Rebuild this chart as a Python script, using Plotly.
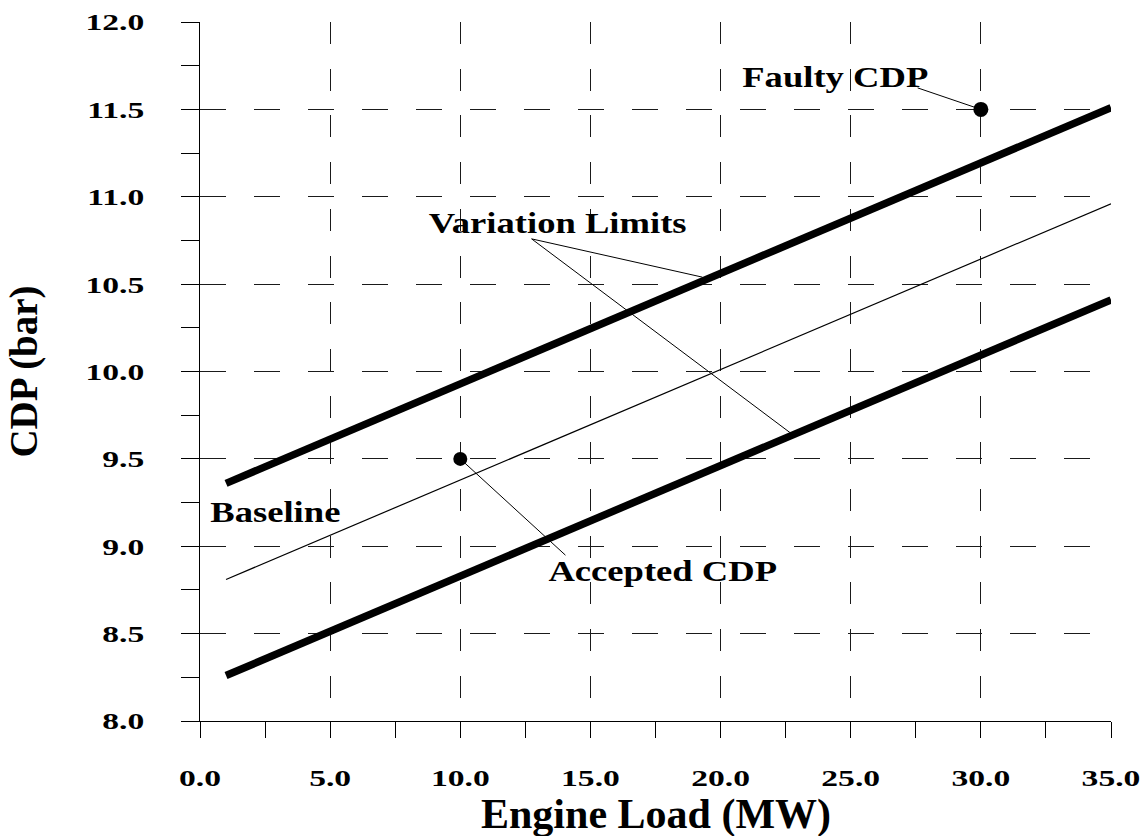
import plotly.graph_objects as go

# ---- data -------------------------------------------------------------
load_mw = [1.0, 35.0]                 # engine load at the ends of each line
cdp_baseline = [8.81, 10.96]          # baseline compressor delivery pressure
cdp_upper = [9.36, 11.51]             # upper variation limit
cdp_lower = [8.26, 10.41]             # lower variation limit

faulty_load = [30.0]
faulty_cdp = [11.5]
accepted_load = [10.0]
accepted_cdp = [9.5]

x_tick_vals = [0, 5, 10, 15, 20, 25, 30, 35]
x_tick_text = ["0.0", "5.0", "10.0", "15.0", "20.0", "25.0", "30.0", "35.0"]
y_tick_vals = [8.0, 8.5, 9.0, 9.5, 10.0, 10.5, 11.0, 11.5, 12.0]
y_tick_text = ["8.0", "8.5", "9.0", "9.5", "10.0", "10.5", "11.0", "11.5", "12.0"]

x_title = "Engine Load (MW)"
y_title = "CDP (bar)"

# ---- callout labels (text, position) and their leader lines -------------
label_text = ["Faulty CDP", "Variation Limits", "Baseline", "Accepted CDP"]
label_x = [24.41, 13.75, 2.90, 17.77]
label_y = [11.69, 10.85, 9.20, 8.86]

leader_lines = [
    ((27.57, 11.623), (faulty_load[0], faulty_cdp[0])),
    ((12.74, 10.759), (19.30, 10.54)),
    ((12.74, 10.759), (22.76, 9.64)),
    ((accepted_load[0], accepted_cdp[0]), (14.04, 8.949)),
]

FONT = "Liberation Serif"

fig = go.Figure()

fig.add_trace(go.Scatter(x=load_mw, y=cdp_upper, mode="lines",
                         line=dict(color="black", width=7.5), name="Upper limit"))
fig.add_trace(go.Scatter(x=load_mw, y=cdp_baseline, mode="lines",
                         line=dict(color="black", width=1.2), name="Baseline"))
fig.add_trace(go.Scatter(x=load_mw, y=cdp_lower, mode="lines",
                         line=dict(color="black", width=7.5), name="Lower limit"))
fig.add_trace(go.Scatter(x=faulty_load, y=faulty_cdp, mode="markers",
                         marker=dict(color="black", size=15), name="Faulty CDP"))
fig.add_trace(go.Scatter(x=accepted_load, y=accepted_cdp, mode="markers",
                         marker=dict(color="black", size=14), name="Accepted CDP"))

for (x0, y0), (x1, y1) in leader_lines:
    fig.add_shape(type="line", xref="x", yref="y", x0=x0, y0=y0, x1=x1, y1=y1,
                  line=dict(color="black", width=1))

for txt, lx, ly in zip(label_text, label_x, label_y):
    fig.add_annotation(x=lx, y=ly, xref="x", yref="y", text=txt, showarrow=False,
                       xanchor="center", yanchor="middle",
                       font=dict(family=FONT, size=30, color="black", weight="bold"))

# x-axis title sits low in the bottom margin, below the tick labels
fig.add_annotation(x=0.5, y=-0.1335, xref="paper", yref="paper", text=x_title,
                   showarrow=False, xanchor="center", yanchor="middle",
                   font=dict(family=FONT, size=42, color="black", weight="bold"))

tick_font = dict(family=FONT, size=24, color="black", weight="bold")

fig.update_layout(
    width=1142, height=836,
    margin=dict(l=200, r=31, t=22, b=115, pad=0),
    paper_bgcolor="white", plot_bgcolor="white",
    showlegend=False,
    xaxis=dict(
        range=[0, 35], tickmode="array", tickvals=x_tick_vals, ticktext=x_tick_text,
        ticks="outside", ticklen=16, tickwidth=1, tickcolor="black",
        showline=True, linecolor="black", linewidth=1, mirror=False,
        showgrid=True, gridcolor="#1a1a1a", gridwidth=1, griddash="22px,24.7px",
        zeroline=False, automargin=False,
        minor=dict(dtick=2.5, tick0=0, ticks="outside", ticklen=16,
                   tickwidth=1, tickcolor="black", showgrid=False),
        tickfont=tick_font, ticklabelstandoff=19,
    ),
    yaxis=dict(
        range=[8, 12], tickmode="array", tickvals=y_tick_vals, ticktext=y_tick_text,
        ticks="outside", ticklen=18, tickwidth=1, tickcolor="black",
        showline=True, linecolor="black", linewidth=1, mirror=False,
        showgrid=True, gridcolor="#1a1a1a", gridwidth=1, griddash="26px,28px",
        zeroline=False, automargin=False,
        minor=dict(dtick=0.25, tick0=8, ticks="outside", ticklen=18,
                   tickwidth=1, tickcolor="black", showgrid=False),
        tickfont=tick_font, ticklabelstandoff=32,
        title=dict(text=y_title, standoff=52,
                   font=dict(family=FONT, size=39, color="black", weight="bold")),
    ),
)

# The labels are set in a wide bold face: stretch them horizontally
# about their anchor once plotly has laid them out.
widen_js = """
var gd = document.getElementById('{plot_id}');
function widenText() {
  var rules = [['.xtick text', 1.4, 'c'], ['.ytick text', 1.4, 'r'],
               ['.annotation-text', 1.22, 'c']];
  rules.forEach(function (r) {
    gd.querySelectorAll(r[0]).forEach(function (t) {
      if (t.textContent === '""" + x_title + """') return;
      var tr = t.getAttribute('transform') || '';
      if (t.__wide === tr) return;
      var b = t.getBBox();
      var cx = r[2] === 'r' ? b.x + b.width : b.x + b.width / 2;
      var nt = (tr ? tr + ' ' : '') + 'translate(' + cx + ',0) scale(' + r[1] +
               ',1) translate(' + (-cx) + ',0)';
      t.setAttribute('transform', nt);
      t.__wide = nt;
    });
  });
}
widenText();
if (gd.on) { gd.on('plotly_afterplot', widenText); }
setTimeout(widenText, 0);
setTimeout(widenText, 200);
"""

fig.write_html("out.html", post_script=widen_js,
               config=dict(displayModeBar=False, staticPlot=True))
